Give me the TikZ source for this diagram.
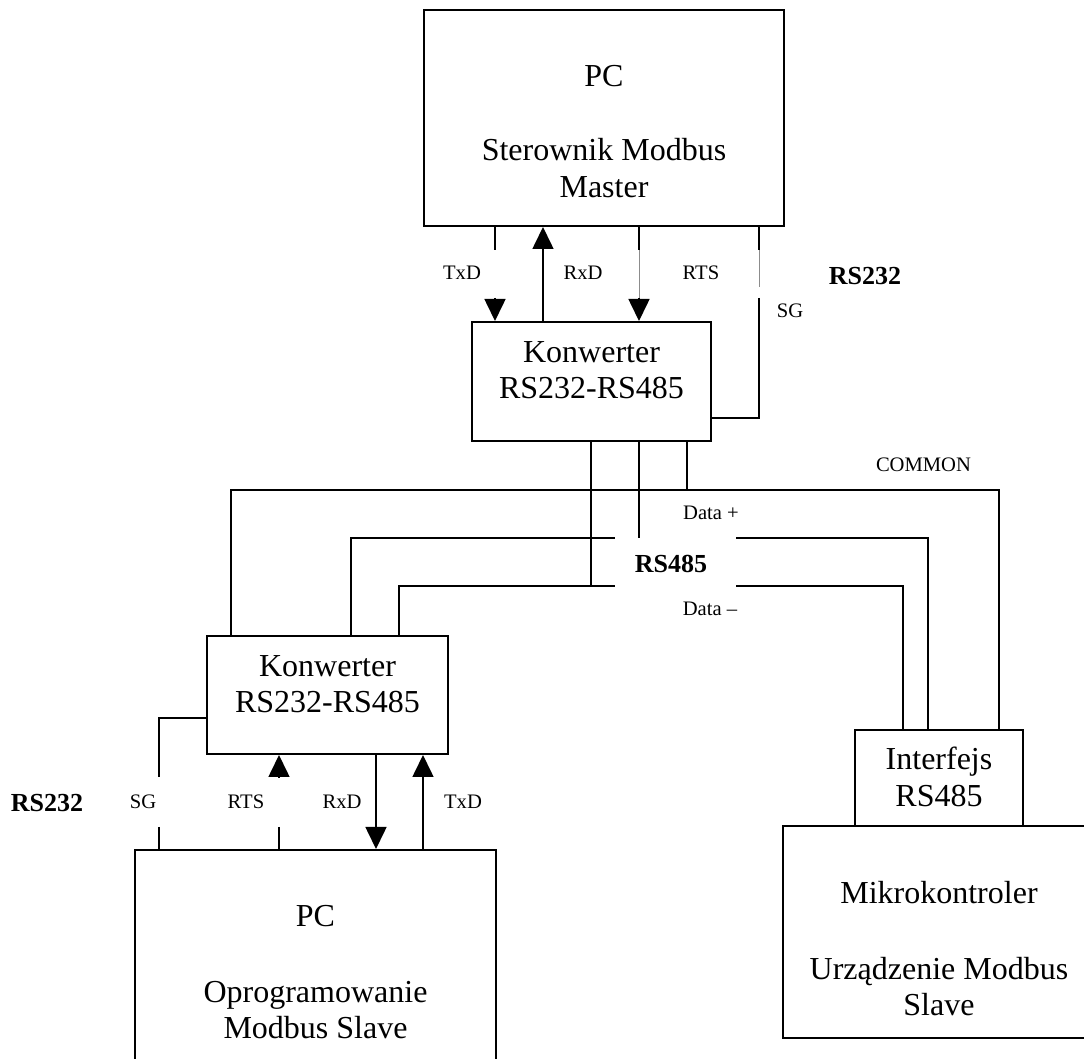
\documentclass[tikz,border=0pt]{standalone}
\usepackage{fontspec}
\setmainfont{Liberation Serif}
\usetikzlibrary{arrows.meta}
\begin{document}
\begin{tikzpicture}[x=0.5pt,y=-0.5pt,
  box/.style={draw, line width=1pt, inner sep=0pt, anchor=center},
  wire/.style={line width=0.8pt},
  faint/.style={line width=0.4pt, draw=black!45},
  sig/.style={wire, -{Triangle[length=11pt,width=10.5pt]}},
  big/.style={inner sep=0pt, anchor=base, font=\fontsize{16}{18}\selectfont},
  lbl/.style={inner sep=0pt, anchor=base, font=\fontsize{10.3}{12}\selectfont},
  bus/.style={inner sep=0pt, anchor=base, font=\fontsize{13}{15}\selectfont\bfseries},
]
\useasboundingbox (0,0) rectangle (1084,1059);
\clip (0,0) rectangle (1084,1059);

% blocks
\node[box, minimum width=180pt, minimum height=108pt] (pcA) at (604,118) {};
\node[box, minimum width=119.5pt, minimum height=59.5pt] (convA) at (591.5,381.5) {};
\node[box, minimum width=120.5pt, minimum height=59pt] (convB) at (327.5,695) {};
\node[box, minimum width=180.5pt, minimum height=115pt] (pcB) at (315.5,965) {};
\node[box, minimum width=84pt, minimum height=48pt] (iface) at (939,778) {};
\node[box, minimum width=156pt, minimum height=106pt] (mcu) at (939,932) {};

% block captions
\node[big] (pcA1) at (604,87) {PC};
\node[big] (pcA2) at (604,161) {Sterownik Modbus};
\node[big] (pcA3) at (604,198) {Master};
\node[big] (convA1) at (591.5,363) {Konwerter};
\node[big] (convA2) at (591.5,399) {RS232-RS485};
\node[big] (convB1) at (327.5,677) {Konwerter};
\node[big] (convB2) at (327.5,713) {RS232-RS485};
\node[big] (pcB1) at (315.5,927) {PC};
\node[big] (pcB2) at (315.5,1002) {Oprogramowanie};
\node[big] (pcB3) at (315.5,1038) {Modbus Slave};
\node[big] (iface1) at (939,770) {Interfejs};
\node[big] (iface2) at (939,807) {RS485};
\node[big] (mcu1) at (939,904) {Mikrokontroler};
\node[big] (mcu2) at (939,979) {Urządzenie Modbus};
\node[big] (mcu3) at (939,1015) {Slave};

% RS232 link: master PC <-> converter
\draw[wire] (495,0 |- pcA.south) -- (495,250);
\draw[sig] (495,298) -- (495,0 |- convA.north);
\draw[sig] (543,0 |- convA.north) -- (543,0 |- pcA.south);
\draw[wire] (639,0 |- pcA.south) -- (639,250);
\draw[faint] (639,250) -- (639,298);
\draw[sig] (639,298) -- (639,0 |- convA.north);
\draw[wire] (759,0 |- pcA.south) -- (759,250);
\draw[faint] (759,250) -- (759,287);
\draw[wire] (759,298) -- (759,418) -- (convA.east |- 0,418);

\node[lbl] (lTxDa) at (462,280) {TxD};
\node[lbl] (lRxDa) at (583,280) {RxD};
\node[lbl] (lRTSa) at (701,280) {RTS};
\node[lbl] (lSGa) at (790,318) {SG};
\node[bus] (rs232a) at (865,285) {RS232};

% RS485 bus
% COMMON
\draw[wire] (687,0 |- convA.south) -- (687,490);
\draw[wire] (231,0 |- convB.north) -- (231,490) -- (855,490);
\draw[wire, line width=0.6pt] (855,490) -- (999,490) -- (999,0 |- iface.north);
% Data +
\draw[wire] (639,0 |- convA.south) -- (639,538);
\draw[wire] (351,0 |- convB.north) -- (351,538) -- (615,538);
\draw[wire] (736,538) -- (928,538) -- (928,0 |- iface.north);
% Data -
\draw[wire] (591,0 |- convA.south) -- (591,586);
\draw[wire] (399,0 |- convB.north) -- (399,586) -- (615,586);
\draw[wire] (736,586) -- (903,586) -- (903,0 |- iface.north);

\node[lbl] (lCommon) at (923.5,472) {COMMON};
\node[lbl] (lDp) at (711,520) {Data +};
\node[bus] (rs485) at (671,573) {RS485};
\node[lbl] (lDm) at (710,616) {Data –};

% RS232 link: converter <-> slave PC
\draw[wire] (convB.west |- 0,718) -- (159,718) -- (159,777);
\draw[wire] (159,827) -- (159,0 |- pcB.north);
\draw[sig] (279,777) -- (279,0 |- convB.south);
\draw[wire] (279,827) -- (279,0 |- pcB.north);
\draw[sig] (376,0 |- convB.south) -- (376,0 |- pcB.north);
\draw[sig] (423,0 |- pcB.north) -- (423,0 |- convB.south);

\node[bus] (rs232b) at (47,812) {RS232};
\node[lbl] (lSGb) at (143,809) {SG};
\node[lbl] (lRTSb) at (246,809) {RTS};
\node[lbl] (lRxDb) at (342,809) {RxD};
\node[lbl] (lTxDb) at (463,809) {TxD};
\end{tikzpicture}
\end{document}
